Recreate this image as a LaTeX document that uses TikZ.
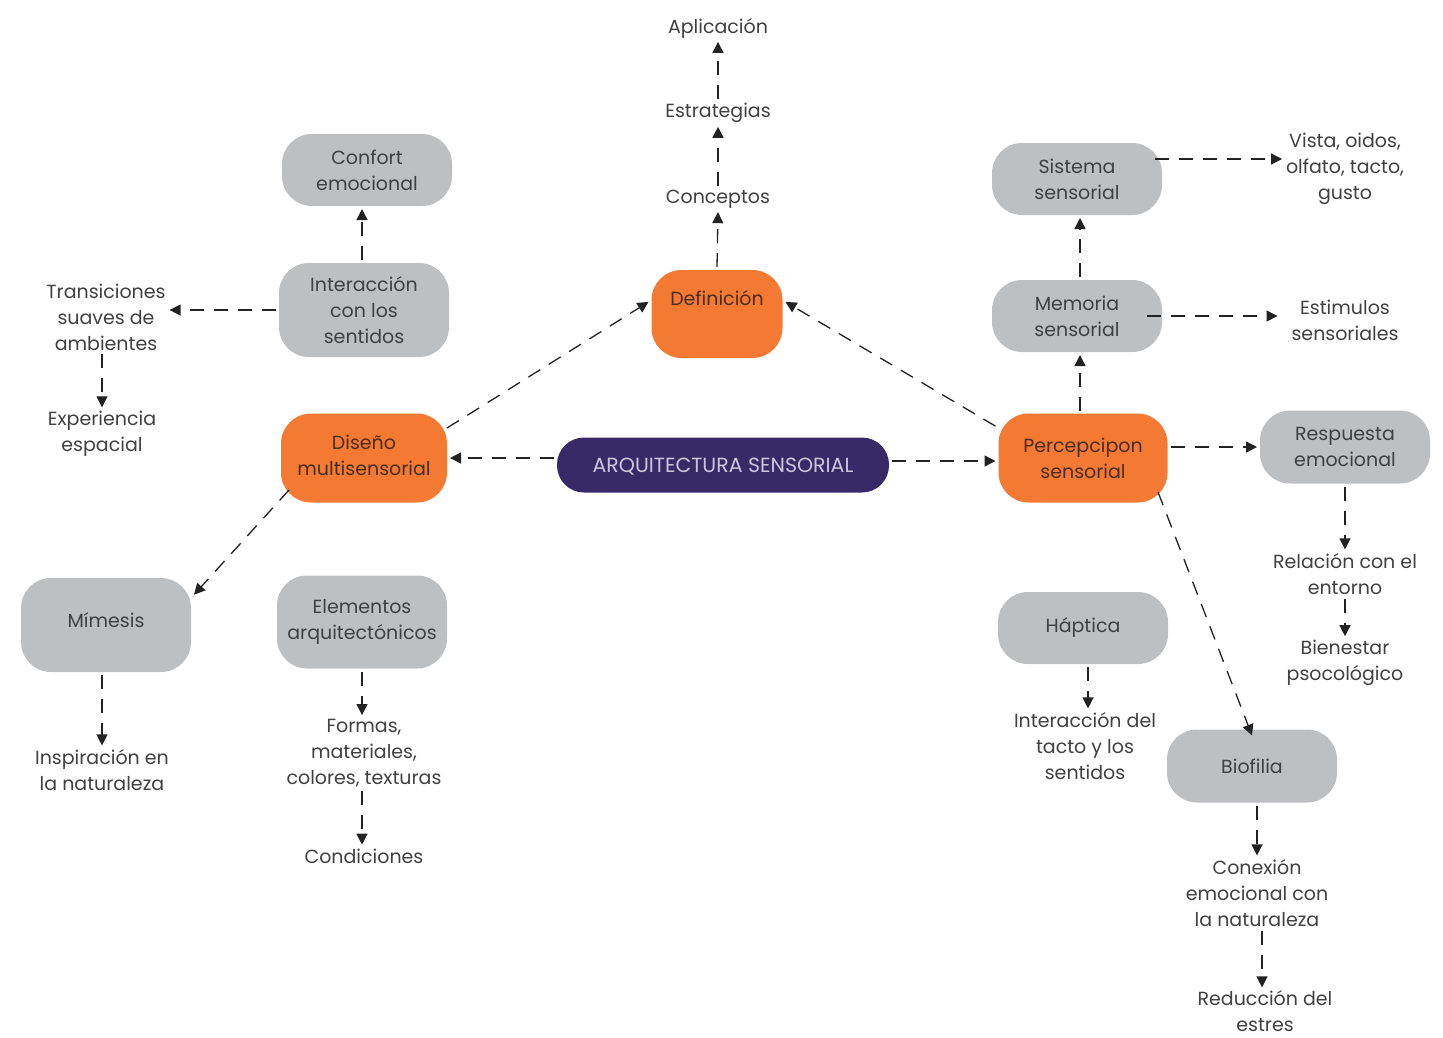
\documentclass[tikz,border=0pt]{standalone}
\usepackage{fontspec}
\setmainfont{Poppins}
\usetikzlibrary{arrows.meta}
\definecolor{orng}{HTML}{F47932}
\definecolor{gry}{HTML}{BEBFC1}
\definecolor{purp}{HTML}{372A67}
\definecolor{txt}{HTML}{404040}
\definecolor{otxt}{HTML}{4A2E1F}
\definecolor{ptxt}{HTML}{CBC7DD}
\definecolor{ln}{HTML}{222222}
\newcommand{\fs}{\fontsize{19}{26}\selectfont}
\begin{document}
\begin{tikzpicture}[x=1pt,y=-1pt,
  box/.style={rounded corners=30pt, minimum width=170pt, minimum height=72pt, align=center, text=txt, font=\fs, inner sep=0pt, outer sep=3pt},
  grybox/.style={box, fill=gry},
  orbox/.style={box, fill=orng, text=otxt},
  lbl/.style={align=center, text=txt, font=\fs, inner sep=2pt, outer sep=2pt},
  arr/.style={draw=ln, line width=1.3pt, dash pattern=on 14pt off 10pt, -{Triangle[length=11pt,width=11pt]}}
]
\useasboundingbox (0,0) rectangle (1443,1037);
% top column
\node[lbl] (apl) at (718,28) {Aplicación};
\node[lbl] (estr) at (718,113) {Estrategias};
\node[lbl] (conc) at (718,199) {Conceptos};
\node[orbox, minimum width=131pt, minimum height=88pt] (def) at (717,314) {};
\node[lbl, text=otxt] (deft) at (717,298) {Definición};
% left
\node[grybox, text depth=-6pt] (conf) at (367,170) {Confort\\emocional};
\node[grybox, minimum height=94pt, text depth=-2pt] (inter) at (364,310) {Interacción\\con los\\sentidos};
\node[lbl] (trans) at (106,317) {Transiciones\\suaves de\\ambientes};
\node[lbl] (exp) at (102,434) {Experiencia\\espacial};
\node[orbox, minimum width=166pt, minimum height=89pt, text depth=6pt] (dis) at (364,458) {Diseño\\multisensorial};
\node[box, fill=purp, text=ptxt, minimum width=332pt, minimum height=55pt, rounded corners=27pt, text depth=-1pt, font=\fontsize{20.5}{26}\selectfont] (arq) at (723,465) {ARQUITECTURA SENSORIAL};
\node[grybox, minimum height=94pt, text depth=10pt] (mim) at (106,625) {Mímesis};
\node[grybox, minimum height=93pt, text depth=6pt] (elem) at (362,622) {Elementos\\arquitectónicos};
\node[lbl] (form) at (364,753) {Formas,\\materiales,\\colores, texturas};
\node[lbl] (cond) at (364,856) {Condiciones};
\node[lbl] (insp) at (102,770) {Inspiración en\\la naturaleza};
% right
\node[grybox, text depth=-4pt] (sis) at (1077,179) {Sistema\\sensorial};
\node[lbl] (vista) at (1345,169) {Vista, oidos,\\olfato, tacto,\\gusto};
\node[grybox] (mem) at (1077,316) {Memoria\\sensorial};
\node[lbl] (estim) at (1345,320) {Estimulos\\sensoriales};
\node[orbox, minimum width=169pt, minimum height=89pt, text depth=-4pt] (perc) at (1083,458) {Percepcipon\\sensorial};
\node[grybox, minimum height=73pt, text depth=-4pt] (resp) at (1345,447) {Respuesta\\emocional};
\node[lbl] (rel) at (1345,574) {Relación con el\\entorno};
\node[lbl] (bien) at (1345,663) {Bienestar\\psocológico};
\node[grybox] (hap) at (1083,628) {Háptica};
\node[lbl] (tacto) at (1085,746) {Interacción del\\tacto y los\\sentidos};
\node[grybox, minimum height=73pt] (bio) at (1252,766) {Biofilia};
\node[lbl] (con) at (1257,893) {Conexión\\emocional con\\la naturaleza};
\node[lbl, inner sep=1pt] (red) at (1265,1011) {Reducción del\\estres};
% connectors
\draw[arr] (def.north) -- (conc.south);
\draw[arr] (conc.north) -- (estr.south);
\draw[arr] (estr.north) -- (apl.south);
\draw[arr] (arq.west |- dis.east) -- (dis.east);
\draw[arr] ([yshift=4pt]arq.east) -- ([yshift=4pt]arq.east -| perc.west);
\draw[arr] ([xshift=83pt,yshift=30pt]dis.center) -- (def.170);
\draw[arr] (perc.160) -- (def.10);
\draw[arr] ([xshift=-75pt,yshift=-32pt]dis.center) -- (mim.19);
\draw[arr] ([xshift=-2pt]inter.north) -- ([xshift=-2pt]inter.north |- conf.south);
\draw[arr] (inter.west) -- (trans.east |- inter.west);
\draw[arr] (exp.north |- trans.south) -- (exp.north);
\draw[arr] (insp.north |- mim.south) -- (insp.north);
\draw[arr] (elem.south) -- (elem.south |- form.north);
\draw[arr] (form.south -| elem.south) -- (elem.south |- cond.north);
\draw[arr] ([xshift=3pt]mem.south |- perc.north) -- ([xshift=3pt]mem.south);
\draw[arr] ([xshift=3pt]sis.south |- mem.north) -- ([xshift=3pt]sis.south);
\coordinate (a1) at ([yshift=20pt,xshift=-10pt]sis.east);
\draw[arr] (a1) -- (a1 -| vista.west);
\coordinate (a2) at ([xshift=-18pt]mem.east);
\draw[arr, shorten >=10pt] (a2) -- (a2 -| estim.west);
\draw[arr] (resp.west -| perc.east) -- (resp.west);
\draw[arr] (resp.south) -- (rel.north);
\draw[arr] (rel.south) -- (bien.north);
\draw[arr] ([xshift=75pt,yshift=-34pt]perc.center) -- ([yshift=-9pt]bio.north);
\draw[arr] ([xshift=5pt]hap.south) -- ([xshift=5pt]hap.south |- tacto.north);
\draw[arr] ([xshift=5pt]bio.south) -- ([xshift=5pt]bio.south |- con.north);
\draw[arr] ([xshift=5pt]con.south) -- ([xshift=5pt]con.south |- red.north);
\end{tikzpicture}
\end{document}
